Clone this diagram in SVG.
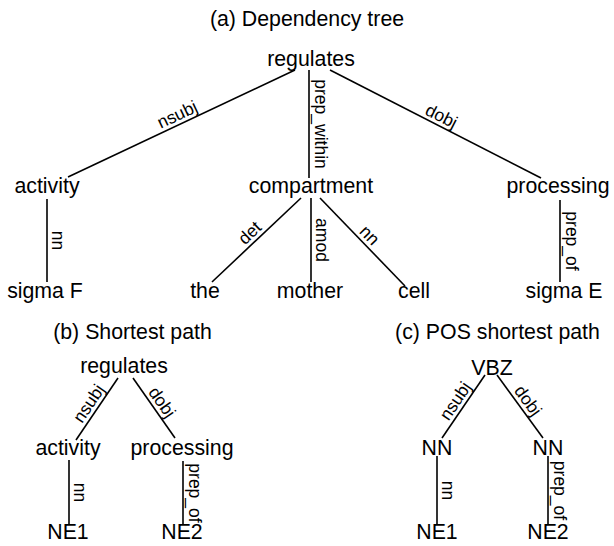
<svg xmlns="http://www.w3.org/2000/svg" width="614" height="546" viewBox="0 0 614 546">
<style>
  .t { font-family: "Liberation Sans", Arial, sans-serif; font-size: 21.3px; fill: #000; text-anchor: middle; }
  .l { font-family: "Liberation Sans", Arial, sans-serif; font-size: 17.5px; fill: #000; text-anchor: middle; }
  .e { stroke: #000; stroke-width: 1.6; fill: none; }
</style>
<rect width="614" height="546" fill="#fff"/>

<text class="t" x="307" y="26">(a) Dependency tree</text>
<text class="t" x="132.5" y="339">(b) Shortest path</text>
<text class="t" x="497.5" y="339">(c) POS shortest path</text>

<g id="connectors">
  <!-- (a) -->
  <line class="e" x1="295" y1="70" x2="68" y2="177"/>
  <line class="e" x1="309" y1="70" x2="309" y2="178"/>
  <line class="e" x1="330" y1="70" x2="541" y2="178"/>
  <line class="e" x1="47" y1="199" x2="47" y2="282"/>
  <line class="e" x1="301" y1="198" x2="212" y2="282"/>
  <line class="e" x1="311" y1="198" x2="311" y2="282"/>
  <line class="e" x1="320" y1="198" x2="405" y2="286"/>
  <line class="e" x1="560" y1="200" x2="560" y2="282"/>
  <!-- (b) -->
  <line class="e" x1="118" y1="378" x2="76" y2="440"/>
  <line class="e" x1="133" y1="378" x2="175" y2="438"/>
  <line class="e" x1="69" y1="460" x2="69" y2="525"/>
  <line class="e" x1="183" y1="461" x2="183" y2="525"/>
  <!-- (c) -->
  <line class="e" x1="485" y1="375" x2="442" y2="438"/>
  <line class="e" x1="497" y1="375" x2="543" y2="438"/>
  <line class="e" x1="437" y1="456" x2="437" y2="525"/>
  <line class="e" x1="548" y1="456" x2="548" y2="525"/>

  <!-- labels (a) -->
  <text class="l" transform="translate(181.5,123.5) rotate(-25.24)" y="-4">nsubj</text>
  <text class="l" transform="translate(309,124) rotate(90)" y="-5.5">prep_within</text>
  <text class="l" transform="translate(437,125) rotate(27.1)" y="-4">dobj</text>
  <text class="l" transform="translate(47,240.5) rotate(90)" y="-5">nn</text>
  <text class="l" transform="translate(256.5,240) rotate(-43.3)" y="-4">det</text>
  <text class="l" transform="translate(311,240) rotate(90)" y="-5">amod</text>
  <text class="l" transform="translate(362.5,242) rotate(46)" y="-4">nn</text>
  <text class="l" transform="translate(560,241) rotate(90)" y="-5.5">prep_of</text>
  <!-- labels (b) -->
  <text class="l" transform="translate(97,409) rotate(-55.9)" y="-4">nsubj</text>
  <text class="l" transform="translate(154,408) rotate(55)" y="-4">dobj</text>
  <text class="l" transform="translate(69,492.5) rotate(90)" y="-5">nn</text>
  <text class="l" transform="translate(183,493) rotate(90)" y="-5.5">prep_of</text>
  <!-- labels (c) -->
  <text class="l" transform="translate(463.5,406.5) rotate(-55.7)" y="-4">nsubj</text>
  <text class="l" transform="translate(520,406.5) rotate(53.9)" y="-4">dobj</text>
  <text class="l" transform="translate(437,490.5) rotate(90)" y="-5">nn</text>
  <text class="l" transform="translate(548,490.5) rotate(90)" y="-5.5">prep_of</text>
</g>

<!-- (a) nodes -->
<g id="a-regulates"><text class="t" x="311" y="66">regulates</text></g>
<g id="a-activity"><text class="t" x="47" y="193">activity</text></g>
<g id="a-compartment"><text class="t" x="311" y="193">compartment</text></g>
<g id="a-processing"><text class="t" x="558" y="193">processing</text></g>
<g id="a-sigmaF"><text class="t" x="45" y="298">sigma F</text></g>
<g id="a-the"><text class="t" x="205" y="298">the</text></g>
<g id="a-mother"><text class="t" x="310" y="298">mother</text></g>
<g id="a-cell"><text class="t" x="414" y="298">cell</text></g>
<g id="a-sigmaE"><text class="t" x="564" y="298">sigma E</text></g>

<!-- (b) nodes -->
<g id="b-regulates"><text class="t" x="124" y="373">regulates</text></g>
<g id="b-activity"><text class="t" x="68" y="455">activity</text></g>
<g id="b-processing"><text class="t" x="182" y="455">processing</text></g>
<g id="b-NE1"><text class="t" x="68" y="539">NE1</text></g>
<g id="b-NE2"><text class="t" x="182" y="539">NE2</text></g>

<!-- (c) nodes -->
<g id="c-VBZ"><text class="t" x="492" y="375">VBZ</text></g>
<g id="c-NN1"><text class="t" x="437" y="455">NN</text></g>
<g id="c-NN2"><text class="t" x="548" y="455">NN</text></g>
<g id="c-NE1"><text class="t" x="437" y="539">NE1</text></g>
<g id="c-NE2"><text class="t" x="548" y="539">NE2</text></g>
</svg>
